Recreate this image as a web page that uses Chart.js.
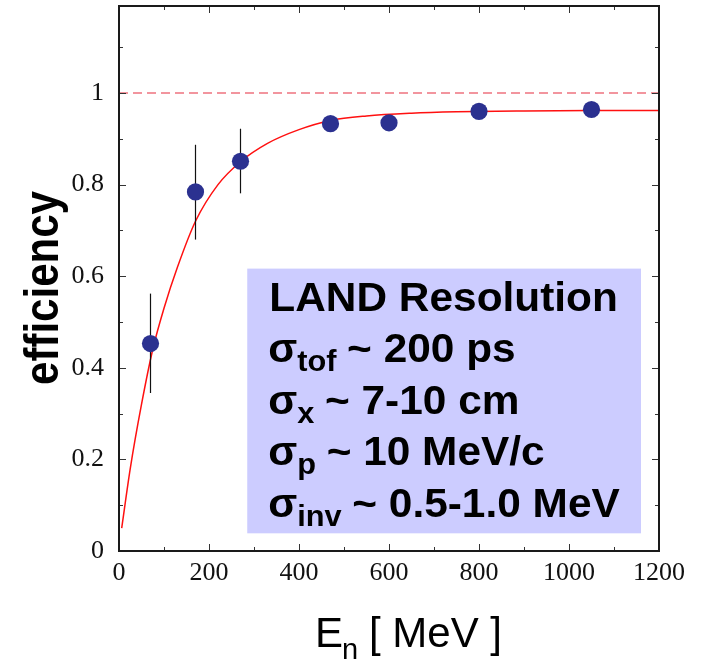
<!DOCTYPE html>
<html>
<head>
<meta charset="utf-8">
<script src="https://cdn.jsdelivr.net/npm/chart.js@4/dist/chart.umd.min.js"></script>
<style>
  html, body { margin: 0; padding: 0; background: #ffffff; }
  #wrap { width: 704px; height: 659px; }
</style>
</head>
<body>
<div id="wrap"><canvas id="c" width="704" height="659"></canvas></div>
<script>
// ---- data ----
const energies   = [70, 170, 270, 470, 600, 800, 1050];
const efficiency = [0.453, 0.784, 0.851, 0.933, 0.935, 0.960, 0.964];
const errLow     = [0.345, 0.680, 0.781, null, null, null, null];
const errHigh    = [0.562, 0.887, 0.922, null, null, null, null];

const fitEnergies   = [6, 25, 50, 75, 100, 130, 170, 220, 270, 330, 400, 470, 550, 650, 750, 900, 1050, 1200];
const fitEfficiency = [0.05, 0.18, 0.32, 0.44, 0.53, 0.62, 0.72, 0.80, 0.85, 0.89, 0.92, 0.94, 0.95, 0.956, 0.959, 0.961, 0.962, 0.962];

const referenceLevel = 1.0;

const xTicks      = [0, 200, 400, 600, 800, 1000, 1200];
const xMinorTicks = [100, 300, 500, 700, 900, 1100];
const yTicks      = [0, 0.2, 0.4, 0.6, 0.8, 1.0];
const yTickLabels = ['0', '0.2', '0.4', '0.6', '0.8', '1'];
const yMinorTicks = [0.1, 0.3, 0.5, 0.7, 0.9, 1.1];

const xTitleMain = 'E';
const xTitleSub  = 'n';
const xTitleRest = '[ MeV ]';
const yTitle     = 'efficiency';

const legendTitle  = 'LAND Resolution';
const legendSubs   = ['tof', 'x', 'p', 'inv'];
const legendValues = ['~ 200 ps', '~ 7-10 cm', '~ 10 MeV/c', '~ 0.5-1.0 MeV'];
// legend box corners in data units
const legendBoxX = [285, 1160];
const legendBoxY = [0.0386, 0.6166];

// ---- datasets ----
const datasets = [];
datasets.push({
  type: 'line',
  data: [{x: 0, y: referenceLevel}, {x: 1200, y: referenceLevel}],
  borderColor: 'rgba(236,100,112,0.9)',
  borderWidth: 1.7,
  borderDash: [9, 5],
  pointRadius: 0,
  fill: false,
  order: 5
});
datasets.push({
  type: 'line',
  data: fitEnergies.map((e, i) => ({x: e, y: fitEfficiency[i]})),
  borderColor: '#ff1010',
  borderWidth: 1.5,
  pointRadius: 0,
  cubicInterpolationMode: 'monotone',
  fill: false,
  order: 4
});
energies.forEach((e, i) => {
  if (errLow[i] === null) return;
  datasets.push({
    type: 'line',
    data: [{x: e, y: errLow[i]}, {x: e, y: errHigh[i]}],
    borderColor: '#111111',
    borderWidth: 1.2,
    pointRadius: 0,
    fill: false,
    order: 3
  });
});
datasets.push({
  type: 'scatter',
  data: energies.map((e, i) => ({x: e, y: efficiency[i]})),
  backgroundColor: '#2b3190',
  borderColor: '#2b3190',
  borderWidth: 0,
  pointRadius: 8.6,
  pointHoverRadius: 8.6,
  order: 1
});

function drawSubText(ctx, x, y, main, sub, rest, mainFont, subFont, subDy, gap) {
  ctx.font = mainFont;
  ctx.fillText(main, x, y);
  let cx = x + ctx.measureText(main).width;
  ctx.font = subFont;
  ctx.fillText(sub, cx, y + subDy);
  cx += ctx.measureText(sub).width + gap;
  ctx.font = mainFont;
  ctx.fillText(rest, cx, y);
}

const decorPlugin = {
  id: 'decor',
  beforeDatasetsDraw(chart) {
    const ctx = chart.ctx;
    const xs = chart.scales.x, ys = chart.scales.y;
    const x0 = xs.getPixelForValue(legendBoxX[0]);
    const x1 = xs.getPixelForValue(legendBoxX[1]);
    const y0 = ys.getPixelForValue(legendBoxY[1]);
    const y1 = ys.getPixelForValue(legendBoxY[0]);
    ctx.save();
    ctx.fillStyle = '#ccccff';
    ctx.fillRect(x0, y0, x1 - x0, y1 - y0);
    ctx.fillStyle = '#000000';
    ctx.textBaseline = 'alphabetic';
    ctx.textAlign = 'left';
    ctx.translate(x0 + 21, 0);
    ctx.scale(1.06, 1);
    let by = y0 + 42;
    const mainFont = 'bold 40px "Liberation Sans", Arial, sans-serif';
    const subFont = 'bold 29px "Liberation Sans", Arial, sans-serif';
    ctx.font = mainFont;
    ctx.fillText(legendTitle, 1, by);
    for (let i = 0; i < legendSubs.length; i++) {
      by += 51.5;
      drawSubText(ctx, 0, by, 'σ', legendSubs[i], legendValues[i], mainFont, subFont, 9, 10);
    }
    ctx.restore();
  },
  afterDraw(chart) {
    const ctx = chart.ctx;
    const a = chart.chartArea;
    const xs = chart.scales.x, ys = chart.scales.y;
    ctx.save();
    // inward tick marks
    ctx.strokeStyle = '#333333';
    ctx.lineWidth = 1;
    ctx.beginPath();
    const tickX = (vals, len) => vals.forEach(v => {
      const p = Math.round(xs.getPixelForValue(v)) + 0.5;
      ctx.moveTo(p, a.bottom); ctx.lineTo(p, a.bottom - len);
      ctx.moveTo(p, a.top); ctx.lineTo(p, a.top + len);
    });
    const tickY = (vals, len) => vals.forEach(v => {
      const p = Math.round(ys.getPixelForValue(v)) + 0.5;
      ctx.moveTo(a.left, p); ctx.lineTo(a.left + len, p);
      ctx.moveTo(a.right, p); ctx.lineTo(a.right - len, p);
    });
    tickX(xTicks, 7); tickX(xMinorTicks, 4);
    tickY(yTicks, 7); tickY(yMinorTicks, 4);
    ctx.stroke();
    // frame
    ctx.strokeStyle = '#1a1a1a';
    ctx.lineWidth = 2;
    ctx.strokeRect(a.left, a.top, a.right - a.left, a.bottom - a.top);
    // x title with subscript
    ctx.fillStyle = '#000000';
    ctx.textBaseline = 'alphabetic';
    ctx.textAlign = 'left';
    ctx.font = '42px "Liberation Sans", Arial, sans-serif';
    ctx.fillText(xTitleMain, 315, 647);
    const ew = ctx.measureText(xTitleMain).width;
    ctx.font = '29px "Liberation Sans", Arial, sans-serif';
    ctx.fillText(xTitleSub, 315 + ew - 1, 659);
    ctx.font = '42px "Liberation Sans", Arial, sans-serif';
    ctx.fillText(xTitleRest, 369, 647);
    // y title rotated
    ctx.save();
    ctx.translate(58, 288);
    ctx.rotate(-Math.PI / 2);
    ctx.scale(1, 1.15);
    ctx.textAlign = 'center';
    ctx.font = 'bold 42px "Liberation Sans", Arial, sans-serif';
    ctx.fillText(yTitle, 0, 0);
    ctx.restore();
    ctx.restore();
  }
};

const tickFont = { family: '"Liberation Serif", "Times New Roman", serif', size: 26 };

new Chart(document.getElementById('c'), {
  data: { datasets },
  options: {
    responsive: false,
    animation: false,
    events: [],
    layout: { autoPadding: false, padding: { top: 6, right: 45, left: 0, bottom: 0 } },
    plugins: { legend: { display: false }, tooltip: { enabled: false } },
    scales: {
      x: {
        type: 'linear', min: 0, max: 1200,
        afterBuildTicks: s => { s.ticks = xTicks.map(v => ({ value: v })); },
        afterFit: s => { s.height = 108; s.paddingLeft = 0; s.paddingRight = 0; },
        grid: { display: false, drawTicks: false },
        border: { display: false },
        ticks: { font: tickFont, color: '#111', padding: 7, maxRotation: 0, autoSkip: false,
                 callback: v => String(v) }
      },
      y: {
        type: 'linear', min: 0, max: 1.19,
        afterBuildTicks: s => { s.ticks = yTicks.map(v => ({ value: v })); },
        afterFit: s => { s.width = 119; s.paddingTop = 0; s.paddingBottom = 0; },
        grid: { display: false, drawTicks: false },
        border: { display: false },
        ticks: { font: tickFont, color: '#111', padding: 15, autoSkip: false,
                 callback: (v) => { const i = yTicks.findIndex(t => Math.abs(t - v) < 1e-9); return i >= 0 ? yTickLabels[i] : ''; } }
      }
    }
  },
  plugins: [decorPlugin]
});
</script>
</body>
</html>
